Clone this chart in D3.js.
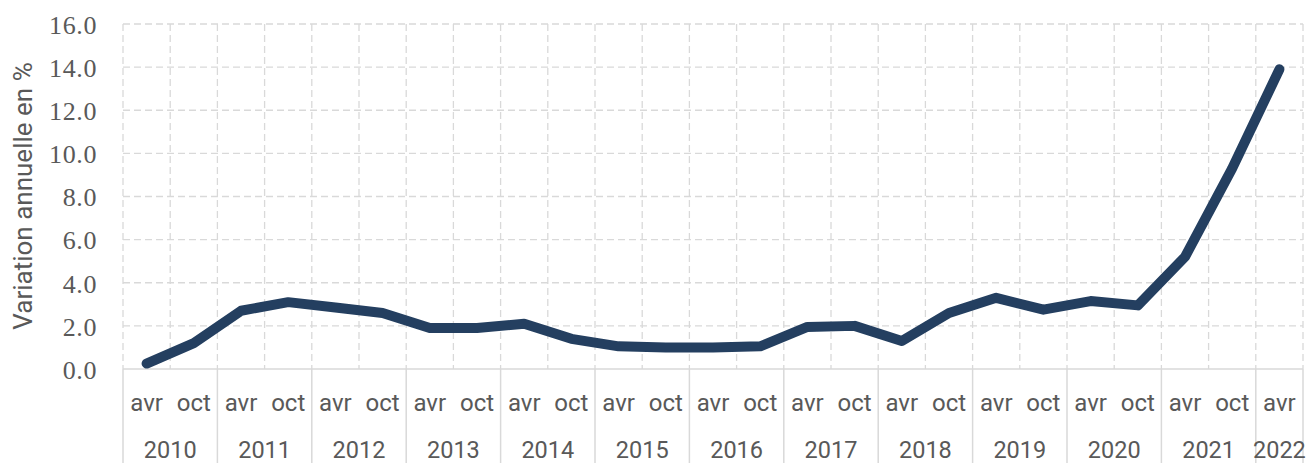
<!DOCTYPE html>
<html>
<head>
<meta charset="utf-8">
<script src="https://cdn.jsdelivr.net/npm/d3@7"></script>
<style>
  body { margin: 0; background: #fff; }
  svg { display: block; }
</style>
</head>
<body>
<svg id="chart"></svg>
<script>
// Data
const years = ["2010", "2011", "2012", "2013", "2014", "2015", "2016", "2017", "2018", "2019", "2020", "2021", "2022"];
const months = ["avr", "oct"];
const lastYearMonths = ["avr"]; // 2022 only has april
const values = [0.25, 1.2, 2.7, 3.1, 2.85, 2.6, 1.9, 1.9, 2.1, 1.4, 1.05, 1.0,
                1.0, 1.05, 1.95, 2.0, 1.3, 2.6, 3.3, 2.75, 3.15, 2.95, 5.2, 9.3, 13.9];
const yTicks = [0, 2, 4, 6, 8, 10, 12, 14, 16];
const yTitle = "Variation annuelle en %";

// build the category list (year + month)
const categories = [];
years.forEach((yr, k) => {
  const ms = k === years.length - 1 ? lastYearMonths : months;
  ms.forEach(m => categories.push({year: yr, month: m}));
});

const W = 1314, H = 463;
const margin = {top: 24, right: 11, bottom: 94, left: 123},
    width = W - margin.left - margin.right,
    height = H - margin.top - margin.bottom;

const gridColor = "#d9d9d9";
const textColor = "#595959";

const svg = d3.select("#chart")
    .attr("width", W)
    .attr("height", H);

const g = svg.append("g")
    .attr("transform", "translate(" + margin.left + "," + margin.top + ")");

const x = d3.scaleBand()
    .domain(d3.range(categories.length))
    .range([0, width])
    .padding(0);
const bw = x.bandwidth();

const y = d3.scaleLinear()
    .domain([0, 16])
    .range([height, 0]);

// horizontal dashed grid
g.append("g")
  .selectAll("line")
  .data(yTicks.filter(d => d > 0))
  .join("line")
    .attr("x1", 0)
    .attr("x2", width)
    .attr("y1", d => y(d))
    .attr("y2", d => y(d))
    .attr("stroke", gridColor)
    .attr("stroke-width", 1.3)
    .attr("stroke-dasharray", "7,4");

// vertical dashed grid at every category boundary
const bounds = d3.range(categories.length + 1).map(i => i * bw);
g.append("g")
  .selectAll("line")
  .data(bounds)
  .join("line")
    .attr("x1", d => d)
    .attr("x2", d => d)
    .attr("y1", 0)
    .attr("y2", height)
    .attr("stroke", gridColor)
    .attr("stroke-width", 1.3)
    .attr("stroke-dasharray", "7,4");

// year separators below the axis (solid)
const yearStart = [];
categories.forEach((c, i) => {
  if (i === 0 || categories[i - 1].year !== c.year) yearStart.push(i);
});
const yearBounds = yearStart.map(i => x(i)).concat([width]);
g.append("g")
  .selectAll("line")
  .data(yearBounds)
  .join("line")
    .attr("x1", d => d)
    .attr("x2", d => d)
    .attr("y1", height)
    .attr("y2", H - margin.top)
    .attr("stroke", gridColor)
    .attr("stroke-width", 1.5);

// x axis baseline
g.append("line")
    .attr("x1", 0)
    .attr("x2", width)
    .attr("y1", height)
    .attr("y2", height)
    .attr("stroke", gridColor)
    .attr("stroke-width", 1.5);

// y axis labels
const yAxis = g.append("g")
    .call(d3.axisLeft(y).tickValues(yTicks).tickFormat(d3.format(".1f")).tickSize(0).tickPadding(26));
yAxis.select(".domain").remove();
yAxis.selectAll("text")
    .attr("dy", "9.3px")
    .attr("fill", textColor)
    .style("font-family", "'Liberation Serif', 'DejaVu Serif', serif")
    .style("font-size", "26px")
    .style("letter-spacing", "0.6px");

// month labels
g.append("g")
  .selectAll("text")
  .data(categories)
  .join("text")
    .attr("x", (d, i) => x(i) + bw / 2)
    .attr("y", height + 42)
    .attr("text-anchor", "middle")
    .attr("fill", textColor)
    .style("font-family", "Roboto, sans-serif")
    .style("font-size", "24px")
    .text(d => d.month);

// year labels
g.append("g")
  .selectAll("text")
  .data(yearStart)
  .join("text")
    .attr("x", (s, k) => (x(s) + yearBounds[k + 1]) / 2)
    .attr("y", height + 89)
    .attr("text-anchor", "middle")
    .attr("fill", textColor)
    .style("font-family", "Roboto, sans-serif")
    .style("font-size", "23.5px")
    .text(s => categories[s].year);

// y axis title
svg.append("text")
    .attr("transform", "translate(32," + (margin.top + 172) + ") rotate(-90)")
    .attr("text-anchor", "middle")
    .attr("fill", textColor)
    .style("font-family", "Roboto, sans-serif")
    .style("font-size", "26px")
    .text(yTitle);

// the line
const valueLine = d3.line()
    .x((d, i) => x(i) + bw / 2)
    .y(d => y(d));

g.append("path")
    .datum(values)
    .attr("d", valueLine)
    .attr("fill", "none")
    .attr("stroke", "#243f60")
    .attr("stroke-width", 10)
    .attr("stroke-linejoin", "round")
    .attr("stroke-linecap", "round");
</script>
</body>
</html>
